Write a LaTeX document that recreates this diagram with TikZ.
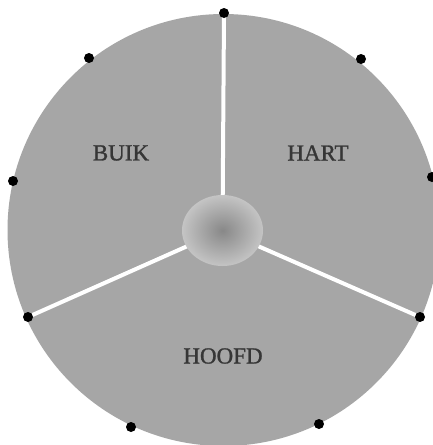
\documentclass[tikz,border=0pt]{standalone}
\usepackage{fontspec}
\setmainfont{Liberation Serif}
\newfontfamily\labelfont[FakeBold=1.2]{Liberation Serif}
\usetikzlibrary{shapes.geometric}
\definecolor{discgray}{HTML}{A6A6A6}
\definecolor{hubin}{HTML}{888888}
\definecolor{hubout}{HTML}{C4C4C4}
\definecolor{labelgray}{HTML}{363636}
\tikzset{
  discstyle/.style={circle, fill=discgray, minimum size=432pt, inner sep=0pt},
  spoke/.style={draw=white, line width=4pt},
  hubstyle/.style={ellipse, minimum width=81pt, minimum height=71pt, inner sep=0pt, shading=radial, inner color=hubin, outer color=hubout},
  dotstyle/.style={circle, fill=black, minimum size=10pt, inner sep=0pt},
  lbl/.style={text=labelgray, font=\labelfont\fontsize{23}{26}\selectfont}
}
\begin{document}
\begin{tikzpicture}[x=1pt,y=-1pt]
\useasboundingbox (0,0) rectangle (432,445);
\fill[white] (0,0) rectangle (432,445);
\node[discstyle] (disc) at (223.5,230) {};
\coordinate (c) at (222.5,230.5);
\coordinate (p1) at (224,13);
\coordinate (p2) at (361,59);
\coordinate (p3) at (432,177);
\coordinate (p4) at (420,317);
\coordinate (p5) at (319,424);
\coordinate (p6) at (131,427);
\coordinate (p7) at (28,317);
\coordinate (p8) at (13,181);
\coordinate (p9) at (89,58);
\draw[spoke] (c) -- (p1);
\draw[spoke] (c) -- (p4);
\draw[spoke] (c) -- (p7);
\node[hubstyle] (hub) at (c) {};
\foreach \i in {1,...,9} {\node[dotstyle] (d\i) at (p\i) {};}
\node[lbl] (buik) at (121,153) {BUIK};
\node[lbl] (hart) at (318,153) {HART};
\node[lbl] (hoofd) at (223,356) {HOOFD};
\end{tikzpicture}
\end{document}
